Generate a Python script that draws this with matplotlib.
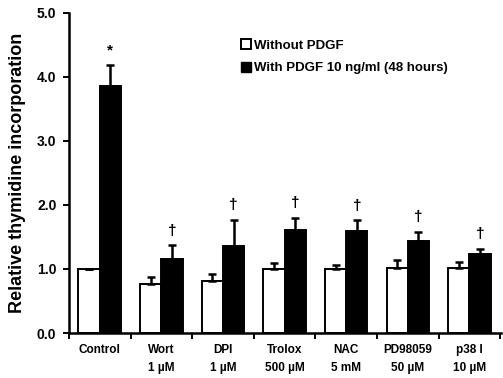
import matplotlib.pyplot as plt
from matplotlib.patches import Patch
import numpy as np

plt.rcParams['font.family'] = ['Liberation Sans', 'DejaVu Sans']
plt.rcParams['font.weight'] = 'bold'

# Data
groups = ["Control", "Wort\n1 \u00b5M", "DPI\n1 \u00b5M", "Trolox\n500 \u00b5M",
          "NAC\n5 mM", "PD98059\n50 \u00b5M", "p38 I\n10 \u00b5M"]
without_pdgf = [1.0, 0.76, 0.81, 1.0, 1.0, 1.02, 1.02]
without_err = [0.0, 0.11, 0.11, 0.09, 0.07, 0.12, 0.09]
with_pdgf = [3.85, 1.15, 1.36, 1.61, 1.59, 1.44, 1.23]
with_err = [0.33, 0.22, 0.41, 0.19, 0.17, 0.14, 0.08]
marks = ["*", "\u2020", "\u2020", "\u2020", "\u2020", "\u2020", "\u2020"]

fig = plt.figure(figsize=(5.03, 3.78), dpi=100)
ax = fig.add_axes([0.137, 0.119, 0.86, 0.847])

x = np.arange(len(groups))
w = 0.345

ax.bar(x - w / 2, without_pdgf, w, color="white", edgecolor="black", linewidth=1.4,
       yerr=[np.zeros(len(x)), without_err], error_kw=dict(ecolor="black", elinewidth=1.8, capsize=3, capthick=1.8))
ax.bar(x + w / 2, with_pdgf, w, color="black", edgecolor="black", linewidth=1.4,
       yerr=[np.zeros(len(x)), with_err], error_kw=dict(ecolor="black", elinewidth=1.8, capsize=3, capthick=1.8))

# significance markers
for xi, v, e, m in zip(x, with_pdgf, with_err, marks):
    ax.text(xi + w / 2, v + e + 0.12, m, ha="center", va="bottom", fontsize=11, fontweight="heavy")

ax.set_xlim(-0.5, 6.52)
ax.set_ylim(0, 5.0)
ax.set_yticks(np.arange(0, 5.1, 1.0))
ax.set_yticklabels([f"{v:.1f}" for v in np.arange(0, 5.1, 1.0)], fontsize=10, fontweight="bold")
ax.set_xticks(np.arange(-0.5, 7.0, 1.0))
ax.set_xticklabels([])
ax.set_xticks(x, minor=True)
ax.set_xticklabels(groups, minor=True, fontsize=8.5, fontweight="bold", linespacing=1.6)
ax.tick_params(axis="x", which="minor", length=0, pad=8)
ax.tick_params(axis="x", which="major", length=4, width=1.4, direction="out")
ax.tick_params(axis="y", length=4, width=1.4, direction="out", pad=5)

for s in ["top", "right"]:
    ax.spines[s].set_visible(False)
for s in ["left", "bottom"]:
    ax.spines[s].set_linewidth(1.8)

ax.set_ylabel("Relative thymidine incorporation", fontsize=13, fontweight="bold", labelpad=8)

handles = [Patch(facecolor="white", edgecolor="black", linewidth=1.4),
           Patch(facecolor="black", edgecolor="black")]
ax.legend(handles, ["Without PDGF", "With PDGF 10 ng/ml (48 hours)"], loc="upper left",
          bbox_to_anchor=(0.37, 0.955), frameon=False, handlelength=0.8, handleheight=0.8,
          handletextpad=0.2, labelspacing=0.75, prop=dict(size=9.5, weight="bold"))

fig.savefig("out.png", dpi=100)
